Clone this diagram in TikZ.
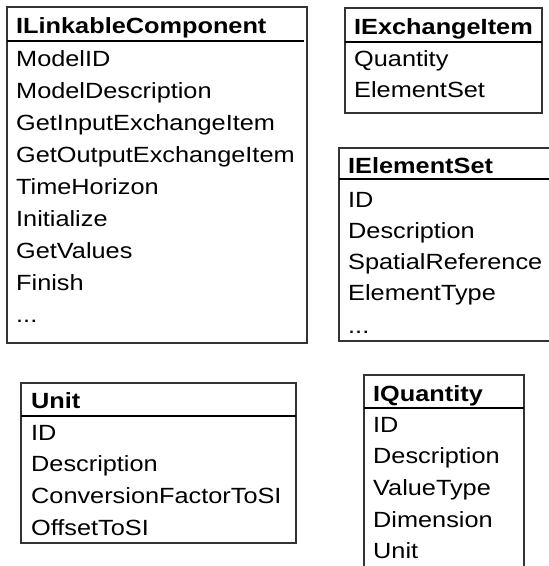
\documentclass[tikz,border=0pt]{standalone}
\usepackage{fontspec}
\setmainfont{Liberation Sans}[FakeStretch=1.15]
\begin{document}
\begin{tikzpicture}[x=1pt,y=-1pt,
  boxline/.style={draw=black!80,line width=1.5pt},
  headline/.style={draw=black,line width=2pt},
  row/.style={anchor=base west,inner sep=0pt,font=\fontsize{22}{26}\selectfont},
  head/.style={row,font=\fontsize{22}{26}\selectfont\bfseries}]
\clip (0,0) rectangle (549,566);
\fill[white] (0,0) rectangle (549,566);
% ILinkableComponent
\draw[boxline] (7,7) rectangle (307,343);
\draw[headline] (7,41) -- (304,41);
\node[head] (lh) at (16,33) {ILinkableComponent};
\node[row] (l1) at (16,66) {ModelID};
\node[row] (l2) at (16,98) {ModelDescription};
\node[row] (l3) at (16,130) {GetInputExchangeItem};
\node[row] (l4) at (16,162) {GetOutputExchangeItem};
\node[row] (l5) at (16,194) {TimeHorizon};
\node[row] (l6) at (16,226) {Initialize};
\node[row] (l7) at (16,258) {GetValues};
\node[row] (l8) at (16,290) {Finish};
\node[row] (l9) at (16,322) {...};
% IExchangeItem
\draw[boxline] (345,8) rectangle (542,113);
\draw[headline] (345,42) -- (542,42);
\node[head] (xh) at (354,34) {IExchangeItem};
\node[row] (x1) at (354,66) {Quantity};
\node[row] (x2) at (354,97) {ElementSet};
% IElementSet
\draw[boxline] (560,148) -- (339,148) -- (339,341) -- (560,341);
\draw[headline] (339,179) -- (560,179);
\node[head] (eh) at (348,173) {IElementSet};
\node[row] (e1) at (348,207) {ID};
\node[row] (e2) at (348,238) {Description};
\node[row] (e3) at (348,269) {SpatialReference};
\node[row] (e4) at (348,300) {ElementType};
\node[row] (e5) at (348,333) {...};
% Unit
\draw[boxline] (21,383) rectangle (296,543);
\draw[headline] (21,416) -- (296,416);
\node[head] (uh) at (31,408) {Unit};
\node[row] (u1) at (31,440) {ID};
\node[row] (u2) at (31,471) {Description};
\node[row] (u3) at (31,503) {ConversionFactorToSI};
\node[row] (u4) at (31,535) {OffsetToSI};
% IQuantity
\draw[boxline] (364,600) -- (364,375) -- (524,375) -- (524,600);
\draw[headline] (364,408) -- (524,408);
\node[head] (qh) at (373,401) {IQuantity};
\node[row] (q1) at (373,432) {ID};
\node[row] (q2) at (373,463) {Description};
\node[row] (q3) at (373,495) {ValueType};
\node[row] (q4) at (373,527) {Dimension};
\node[row] (q5) at (373,558) {Unit};
\end{tikzpicture}
\end{document}
